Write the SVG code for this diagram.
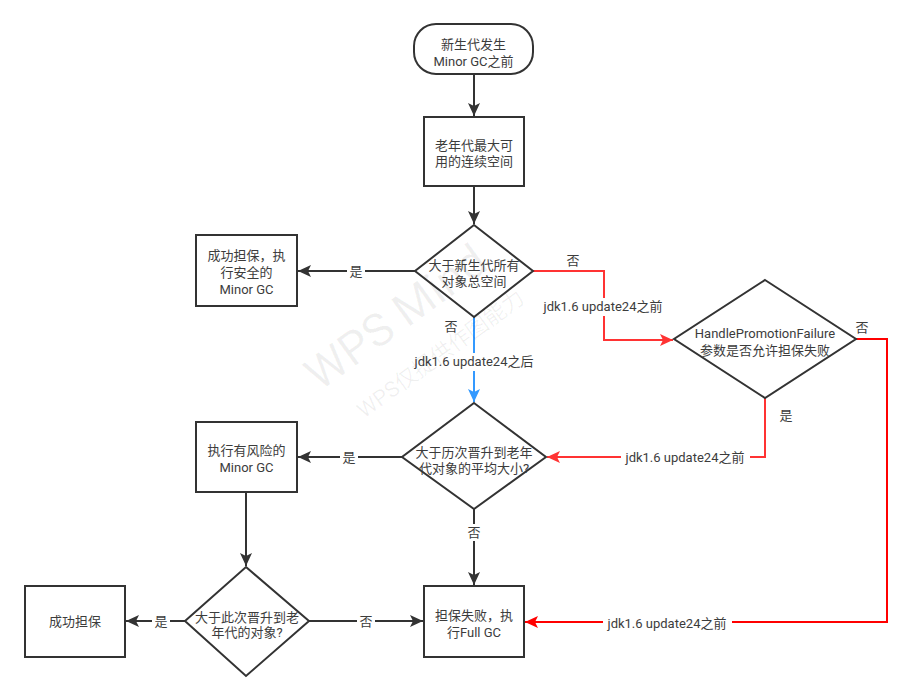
<svg xmlns="http://www.w3.org/2000/svg" width="914" height="700" viewBox="0 0 914 700">
<style>
.n{fill:#fff;stroke:#333;stroke-width:2}
.t{font-family:Roboto,"Noto Sans CJK SC",sans-serif;font-size:13px;fill:#3c3c3c;text-anchor:middle}
.c{fill:none;stroke:#333;stroke-width:2}
.r{fill:none;stroke:#ff3333;stroke-width:2}
.rr{fill:none;stroke:#ff0000;stroke-width:2}
.b{fill:none;stroke:#3399ff;stroke-width:2}
.bg{fill:#fff}
.wm{font-family:Roboto,"Noto Sans CJK SC",sans-serif;fill:#000;fill-opacity:0.06;text-anchor:middle}
</style>
<defs>
<marker id="ak" markerUnits="userSpaceOnUse" markerWidth="14" markerHeight="12" refX="13" refY="6" orient="auto"><path d="M0,0 L13,6 L0,12 L3,6 z" fill="#333"/></marker>
<marker id="ar" markerUnits="userSpaceOnUse" markerWidth="14" markerHeight="12" refX="13" refY="6" orient="auto"><path d="M0,0 L13,6 L0,12 L3,6 z" fill="#ff3333"/></marker>
<marker id="arr" markerUnits="userSpaceOnUse" markerWidth="14" markerHeight="12" refX="13" refY="6" orient="auto"><path d="M0,0 L13,6 L0,12 L3,6 z" fill="#ff0000"/></marker>
<marker id="ab" markerUnits="userSpaceOnUse" markerWidth="14" markerHeight="12" refX="13" refY="6" orient="auto"><path d="M0,0 L13,6 L0,12 L3,6 z" fill="#3399ff"/></marker>
</defs>
<rect width="914" height="700" fill="#fff"/>
<g id="connectors">
<path class="c" d="M474,75 L474,116" marker-end="url(#ak)"/>
<path class="c" d="M474,186 L474,224" marker-end="url(#ak)"/>
<path class="c" d="M415,271 L298,271" marker-end="url(#ak)"/>
<rect class="bg" x="347" y="263" width="18" height="17"/>
<text class="t" x="356" y="276">是</text>
<path class="b" d="M474,317 L474,402" marker-end="url(#ab)"/>
<text class="t" x="451" y="331">否</text>
<rect class="bg" x="410" y="353" width="128" height="18"/>
<text class="t" x="474" y="366">jdk1.6 update24之后</text>
<path class="r" d="M533,271 L604,271 L604,340 L673,340" marker-end="url(#ar)"/>
<text class="t" x="573" y="265">否</text>
<rect class="bg" x="539" y="298" width="129" height="18"/>
<text class="t" x="603" y="311">jdk1.6 update24之前</text>
<path class="rr" d="M856,339 L887,339 L887,622 L525,622" marker-end="url(#arr)"/>
<text class="t" x="862" y="332">否</text>
<rect class="bg" x="603" y="614" width="129" height="18"/>
<text class="t" x="667" y="628">jdk1.6 update24之前</text>
<path class="r" d="M765,398 L765,457 L547,457" marker-end="url(#ar)"/>
<text class="t" x="786" y="420">是</text>
<rect class="bg" x="621" y="449" width="129" height="18"/>
<text class="t" x="685" y="462">jdk1.6 update24之前</text>
<path class="c" d="M402,457 L298,457" marker-end="url(#ak)"/>
<rect class="bg" x="340" y="449" width="18" height="17"/>
<text class="t" x="349" y="462">是</text>
<path class="c" d="M474,509 L474,585" marker-end="url(#ak)"/>
<rect class="bg" x="465" y="524" width="18" height="17"/>
<text class="t" x="474" y="537">否</text>
<path class="c" d="M246,492 L246,566" marker-end="url(#ak)"/>
<path class="c" d="M185,621 L126,621" marker-end="url(#ak)"/>
<rect class="bg" x="152" y="613" width="18" height="17"/>
<text class="t" x="161" y="626">是</text>
<path class="c" d="M309,621 L423,621" marker-end="url(#ak)"/>
<rect class="bg" x="357" y="613" width="18" height="17"/>
<text class="t" x="366" y="626">否</text>
</g>
<g id="start">
<rect class="n" x="414" y="24" width="119" height="50" rx="22" ry="22"/>
<text class="t" x="473.5" y="48.5">新生代发生<tspan x="473.5" dy="17">Minor GC之前</tspan></text>
</g>
<g id="oldspace">
<rect class="n" x="424" y="117" width="100" height="69"/>
<text class="t" x="474" y="149.5">老年代最大可<tspan x="474" dy="16">用的连续空间</tspan></text>
</g>
<g id="d1">
<polygon class="n" points="474,225 533,271 474,317 415,271"/>
<text class="t" x="474" y="269.5">大于新生代所有<tspan x="474" dy="16">对象总空间</tspan></text>
</g>
<g id="safe">
<rect class="n" x="196" y="235" width="101" height="71"/>
<text class="t" x="246.5" y="259.5">成功担保，执<tspan x="246.5" dy="17">行安全的</tspan><tspan x="246.5" dy="17">Minor GC</tspan></text>
</g>
<g id="d2">
<polygon class="n" points="765,280 856,339 765,398 674,339"/>
<text class="t" x="765" y="337.5">HandlePromotionFailure<tspan x="765" dy="17">参数是否允许担保失败</tspan></text>
</g>
<g id="d3">
<polygon class="n" points="474,403 546,457 474,509 402,457"/>
<text class="t" x="474" y="456.5">大于历次晋升到老年<tspan x="474" dy="16">代对象的平均大小?</tspan></text>
</g>
<g id="risky">
<rect class="n" x="196" y="422" width="101" height="70"/>
<text class="t" x="246.5" y="455">执行有风险的<tspan x="246.5" dy="16.5">Minor GC</tspan></text>
</g>
<g id="d4">
<polygon class="n" points="246,567 309,621 246,676 185,621"/>
<text class="t" x="247" y="621.5">大于此次晋升到老<tspan x="247" dy="15.5">年代的对象?</tspan></text>
</g>
<g id="success">
<rect class="n" x="25" y="586" width="100" height="71"/>
<text class="t" x="75" y="626">成功担保</text>
</g>
<g id="fullgc">
<rect class="n" x="424" y="586" width="100" height="71"/>
<text class="t" x="474" y="619.5">担保失败，执<tspan x="474" dy="17">行Full GC</tspan></text>
</g>
<g id="watermark">
<text class="wm" x="405" y="330" font-size="46" transform="rotate(-36 405 330)">WPS Mind</text>
<text class="wm" x="445" y="360" font-size="22" transform="rotate(-36 445 360)">WPS仅提供作图能力</text>
</g>
</svg>
